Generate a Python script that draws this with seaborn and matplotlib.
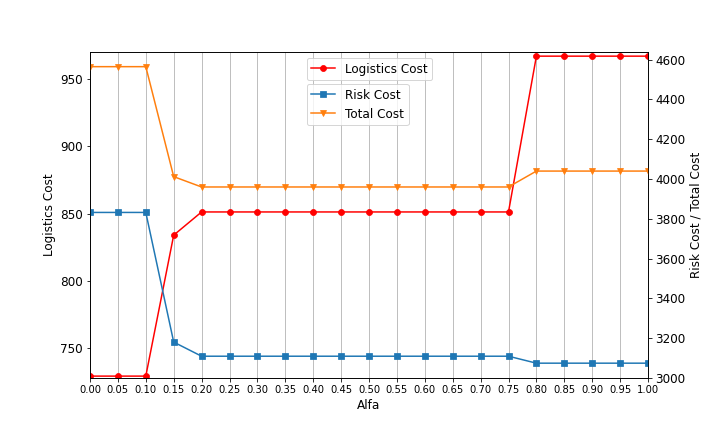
import pandas as pd
import numpy as np
import matplotlib.pyplot as plt
import seaborn as sns

alfa = [0.00, 0.05, 0.10, 0.15, 0.20, 0.25, 0.30, 0.35, 0.40, 0.45, 0.50,
        0.55, 0.60, 0.65, 0.70, 0.75, 0.80, 0.85, 0.90, 0.95, 1.00]
logistics_cost = [729.4, 729.4, 729.4, 834.0, 851.2, 851.2, 851.2, 851.2, 851.2, 851.2, 851.2,
                  851.2, 851.2, 851.2, 851.2, 851.2, 966.8, 966.8, 966.8, 966.8, 966.8]
risk_cost = [3832, 3832, 3832, 3180, 3109, 3109, 3109, 3109, 3109, 3109, 3109,
             3109, 3109, 3109, 3109, 3109, 3074, 3074, 3074, 3074, 3074]
total_cost = [4565, 4565, 4565, 4012, 3960, 3960, 3960, 3960, 3960, 3960, 3960,
              3960, 3960, 3960, 3960, 3960, 4040, 4040, 4040, 4040, 4040]

df = pd.DataFrame({'Alfa': alfa, 'Logistics': logistics_cost,
                   'Risk': risk_cost, 'Total': total_cost})

plt.rcParams['font.size'] = 12

fig, ax = plt.subplots(figsize=(10, 6), dpi=72)
fig.subplots_adjust(left=0.125, right=0.9, top=0.88, bottom=0.125)

sns.lineplot(data=df, x='Alfa', y='Logistics', ax=ax, color='red', marker='o',
             markersize=6, markeredgecolor='red', label='Logistics Cost')
ax.set_ylim(728, 970)
ax.set_xlim(0, 1)
ax.set_xticks(alfa)
ax.set_xticklabels([f'{a:.2f}' for a in alfa], fontsize=10)
ax.grid(axis='x', color='#b0b0b0')
ax.set_xlabel('Alfa')
ax.set_ylabel('Logistics Cost')
ax.legend(loc='upper left', bbox_to_anchor=(0.388, 0.982), borderaxespad=0)

ax2 = ax.twinx()
sns.lineplot(data=df, x='Alfa', y='Risk', ax=ax2, color='tab:blue', marker='s',
             markersize=6, markeredgecolor='tab:blue', label='Risk Cost')
sns.lineplot(data=df, x='Alfa', y='Total', ax=ax2, color='tab:orange', marker='v',
             markersize=6, markeredgecolor='tab:orange', label='Total Cost')
ax2.set_ylabel('Risk Cost / Total Cost')
ax2.legend(loc='upper left', bbox_to_anchor=(0.388, 0.902), borderaxespad=0)
ax2.set_xlim(0, 1)

plt.savefig('out.png')
